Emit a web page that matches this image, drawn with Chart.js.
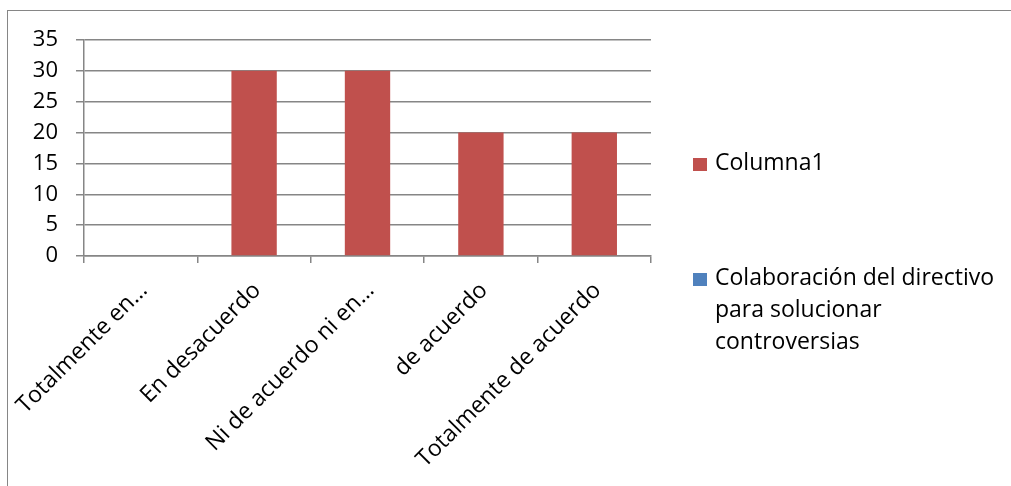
<!DOCTYPE html>
<html>
<head>
<meta charset="utf-8">
<script src="https://cdn.jsdelivr.net/npm/chart.js@4"></script>
<style>
  html, body { margin: 0; padding: 0; background: #fff; overflow: hidden; }
  #wrap { position: relative; width: 1011px; height: 486px; overflow: hidden; }
  #frame { position: absolute; left: 7px; top: 10px; width: 1100px; height: 600px;
           border: 1.5px solid #868686; box-sizing: border-box; pointer-events: none; }
  canvas { position: absolute; left: 0; top: 0; }
  #legend { position: absolute; left: 693px; top: 0; font-family: "Open Sans", sans-serif;
            font-size: 23px; color: #000; }
  .item { position: absolute; left: 0; white-space: nowrap; }
  .swatch { position: absolute; left: 0; width: 14px; height: 13px; }
  .label { position: absolute; left: 22px; line-height: 32px; }
</style>
</head>
<body>
<div id="wrap">
  <div id="frame"></div>
  <canvas id="c" width="1011" height="486"></canvas>
  <div id="legend"></div>
</div>
<script>
// Survey answers and counts
const categories = ["Totalmente en…", "En desacuerdo", "Ni de acuerdo ni en…", "de acuerdo", "Totalmente de acuerdo"];
const columna1 = [0, 30, 30, 20, 20];
const colaboracion = [null, null, null, null, null];
const seriesNames = ["Columna1", "Colaboración del directivo para solucionar controversias"];
const seriesLabelLines = [["Columna1"], ["Colaboración del directivo", "para solucionar", "controversias"]];
const seriesColors = ["#C0504D", "#4F81BD"];
const yTicks = [0, 5, 10, 15, 20, 25, 30, 35];

const gridColor = "#868686";
const yFont = { family: "'Open Sans', sans-serif", size: 22 };
const xFont = { family: "'Open Sans', sans-serif", size: 23 };

const chart = new Chart(document.getElementById("c"), {
  type: "bar",
  data: {
    labels: categories,
    datasets: [
      { label: seriesNames[0], data: columna1, backgroundColor: seriesColors[0], borderWidth: 0 },
      { label: seriesNames[1], data: colaboracion, backgroundColor: seriesColors[1], borderWidth: 0 }
    ]
  },
  options: {
    responsive: false,
    animation: false,
    devicePixelRatio: 1,
    grouped: false,
    categoryPercentage: 1,
    barPercentage: 0.4,
    layout: { padding: { top: 40, right: 360, left: 0, bottom: 0 } },
    plugins: { legend: { display: false }, tooltip: { enabled: false } },
    scales: {
      x: {
        grid: { drawOnChartArea: false, drawTicks: true, tickLength: 7, color: gridColor, lineWidth: 1.5, offset: true },
        border: { display: true, color: gridColor, width: 1.5 },
        ticks: { autoSkip: false, maxRotation: 45, minRotation: 45, padding: 14, labelOffset: 3,
                 color: "#000", font: xFont },
        afterFit: (s) => { s.height = 486 - 256; s.paddingLeft = 0; s.paddingRight = 0; }
      },
      y: {
        min: 0, max: 35,
        afterBuildTicks: (s) => { s.ticks = yTicks.map(v => ({ value: v })); },
        grid: { color: gridColor, lineWidth: 1.5, tickLength: 8, drawTicks: true },
        border: { display: true, color: gridColor, width: 1.5 },
        ticks: { padding: 18, color: "#000", font: yFont },
        afterFit: (s) => { s.width = 84; }
      }
    }
  }
});

// Legend drawn from the datasets
const legend = document.getElementById("legend");
const rows = [158, 273];
chart.data.datasets.forEach((ds, i) => {
  const item = document.createElement("div");
  item.className = "item";
  item.style.top = rows[i] + "px";
  const sw = document.createElement("div");
  sw.className = "swatch";
  sw.style.background = ds.backgroundColor;
  const lab = document.createElement("div");
  lab.className = "label";
  lab.style.top = "-13px";
  lab.innerHTML = seriesLabelLines[i].map(t => t.replace(/&/g, "&amp;")).join("<br>");
  item.appendChild(sw);
  item.appendChild(lab);
  legend.appendChild(item);
});
</script>
</body>
</html>
